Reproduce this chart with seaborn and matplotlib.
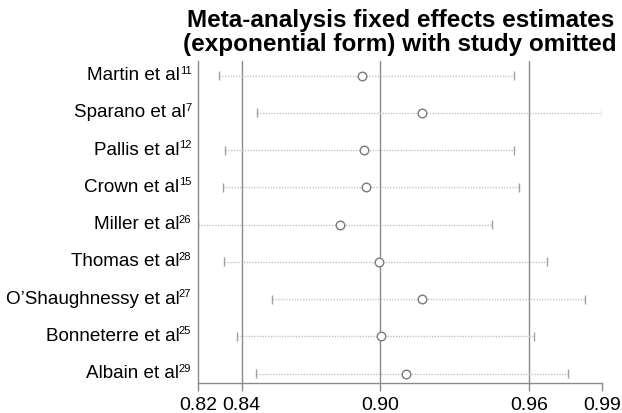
import numpy as np
import pandas as pd
import matplotlib
matplotlib.use("Agg")
import matplotlib.pyplot as plt
import matplotlib.transforms as mtrans
import seaborn as sns

# ==============================
# Data
# ==============================

study_names = [
    "Martin et al",
    "Sparano et al",
    "Pallis et al",
    "Crown et al",
    "Miller et al",
    "Thomas et al",
    "O’Shaughnessy et al",
    "Bonneterre et al",
    "Albain et al",
]
study_refs = ["11", "7", "12", "15", "26", "28", "27", "25", "29"]
estimate = [0.8901, 0.9149, 0.8911, 0.8920, 0.8811, 0.8972, 0.9151, 0.8979, 0.9084]
lower = [0.8312, 0.8467, 0.8335, 0.8328, 0.8225, 0.8330, 0.8528, 0.8386, 0.8464]
upper = [0.9531, 0.9895, 0.9532, 0.9552, 0.9439, 0.9666, 0.9825, 0.9615, 0.9753]

# overall fixed effect estimate and its CI
overall_est = 0.8978
overall_lo = 0.8405
overall_hi = 0.9594

df = pd.DataFrame({"study": study_names, "ref": study_refs,
                   "est": estimate, "lo": lower, "hi": upper})
df["row"] = np.arange(len(df))

# ==============================
# Plot
# ==============================

sns.set_theme(style="white")
plt.rcParams["font.family"] = ["Liberation Sans", "DejaVu Sans"]
plt.rcParams["text.color"] = "black"

fig = plt.figure(figsize=(6.22, 4.14), dpi=100)
ax = fig.add_axes([0.3188, 0.0717, 0.649, 0.7793])

grid_col = "#8a8a8a"

# vertical reference lines at overall estimate and CI
for v in [overall_lo, overall_est, overall_hi]:
    ax.axvline(v, color=grid_col, lw=1.0, zorder=1)

# CI lines (dotted) and end caps
ax.hlines(df["row"], df["lo"], df["hi"], color="#c4c4c4", lw=1.0,
          linestyles=(0, (1, 1)), zorder=2)
ax.vlines(df["lo"], df["row"] - 0.12, df["row"] + 0.12, color="#a0a0a0", lw=1.0, zorder=2)
ax.vlines(df["hi"], df["row"] - 0.12, df["row"] + 0.12, color="#a0a0a0", lw=1.0, zorder=2)

# point estimates
sns.scatterplot(data=df, x="est", y="row", ax=ax, s=38, marker="o",
                facecolor="white", edgecolor="#7a7a7a", linewidth=1.0, zorder=3)

xmin, xmax = min(lower), max(upper)
ax.set_xlim(xmin, xmax)
ax.set_ylim(len(df) - 1 + 0.26, -0.40)

xt = [xmin, overall_lo, overall_est, overall_hi, xmax]
ax.set_xticks(xt)
ax.set_xticklabels(["%.2f" % v for v in xt])
ax.set_yticks(df["row"])
ax.set_yticklabels([])
ax.set_xlabel("")
ax.set_ylabel("")

for s in ["top", "right"]:
    ax.spines[s].set_visible(False)
for s in ["left", "bottom"]:
    ax.spines[s].set_color(grid_col)
    ax.spines[s].set_linewidth(1.0)

ax.tick_params(axis="x", length=6, width=1.0, color=grid_col, labelsize=14,
               pad=3, labelcolor="black", bottom=True)
ax.tick_params(axis="y", length=0)

# study labels with small superscript reference numbers
renderer = fig.canvas.get_renderer()
ytrans = ax.get_yaxis_transform()
for _, r in df.iterrows():
    sup = ax.text(0, r["row"], r["ref"], fontsize=8, ha="right", va="center",
                  transform=mtrans.offset_copy(ytrans, fig, x=-7, y=6, units="dots"))
    w = sup.get_window_extent(renderer).width
    ax.text(0, r["row"], r["study"], fontsize=13.6, ha="right", va="center",
            transform=mtrans.offset_copy(ytrans, fig, x=-7 - w + 0.5, y=1, units="dots"))

ax.set_title("Meta-analysis fixed effects estimates\n(exponential form) with study omitted",
             fontsize=17.5, fontweight="bold", linespacing=1.05, pad=8, color="black")

plt.savefig("out.png", dpi=100)
